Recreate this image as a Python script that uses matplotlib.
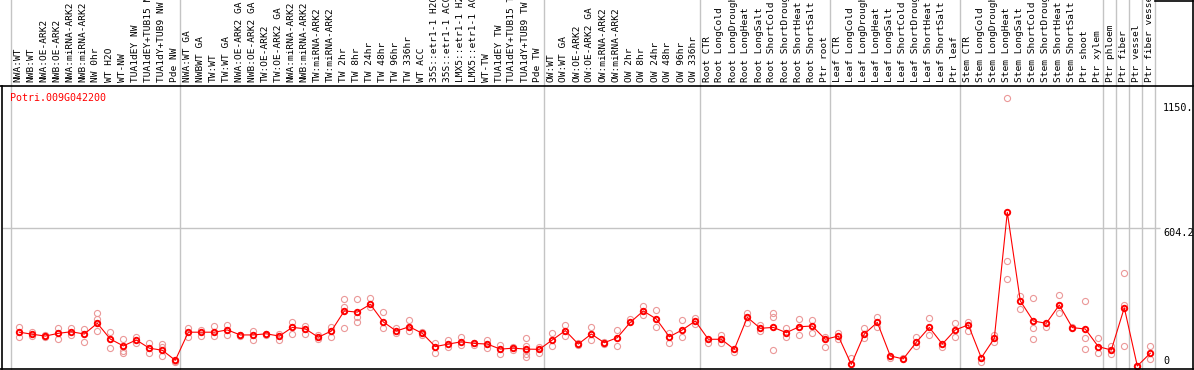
import matplotlib
matplotlib.use("Agg")
import matplotlib.pyplot as plt
from matplotlib.lines import Line2D
from matplotlib.transforms import blended_transform_factory

# ---------------- data ----------------
gene_id = "Potri.009G042200"

categories = [
    "NWA:WT", "NWB:WT", "NWA:OE-ARK2", "NWB:OE-ARK2", "NWA:miRNA-ARK2", "NWB:miRNA-ARK2",
    "NW 0hr", "WT H2O", "WT-NW", "TUA1dEY NW", "TUA1dEY+TUB15 NW", "TUA1dY+TUB9 NW", "Pde NW",
    "NWA:WT GA", "NWBWT GA", "TW:WT", "TW:WT GA", "NWA:OE-ARK2 GA", "NWB:OE-ARK2 GA",
    "TW:OE-ARK2", "TW:OE-ARK2 GA", "NWA:miRNA-ARK2", "NWB:miRNA-ARK2", "TW:miRNA-ARK2",
    "TW:miRNA-ARK2", "TW 2hr", "TW 8hr", "TW 24hr", "TW 48hr", "TW 96hr", "TW 336hr", "WT ACC",
    "35S::etr1-1 H2O", "35S::etr1-1 ACC", "LMX5::etr1-1 H2O", "LMX5::etr1-1 ACC", "WT-TW",
    "TUA1dEY TW", "TUA1dEY+TUB15 TW", "TUA1dY+TUB9 TW", "Pde TW",
    "OW:WT", "OW:WT GA", "OW:OE-ARK2", "OW:OE-ARK2 GA", "OW:miRNA-ARK2", "OW:miRNA-ARK2",
    "OW 2hr", "OW 8hr", "OW 24hr", "OW 48hr", "OW 96hr", "OW 336hr",
    "Root CTR", "Root LongCold", "Root LongDrought", "Root LongHeat", "Root LongSalt",
    "Root ShortCold", "Root ShortDrought", "Root ShortHeat", "Root ShortSalt", "Ptr root",
    "Leaf CTR", "Leaf LongCold", "Leaf LongDrought", "Leaf LongHeat", "Leaf LongSalt",
    "Leaf ShortCold", "Leaf ShortDrought", "Leaf ShortHeat", "Leaf ShortSalt", "Ptr leaf",
    "Stem CTR", "Stem LongCold", "Stem LongDrought", "Stem LongHeat", "Stem LongSalt",
    "Stem ShortCold", "Stem ShortDrought", "Stem ShortHeat", "Stem ShortSalt", "Ptr shoot",
    "Ptr xylem", "Ptr phloem", "Ptr fiber", "Ptr vessel", "Ptr fiber vessel",
]

# group boundaries (category index where a separator line is drawn)
separators = [0, 13, 41, 53, 63, 73, 84, 85, 86, 87, 88]

means = [
    148, 139, 131, 143, 150, 140, 187, 118, 88, 114, 78, 69, 25,
    148, 148, 148, 158, 136, 136, 141, 131, 169, 163, 126, 153, 241, 236, 270, 193, 153, 172,
    143, 85, 96, 106, 99, 96, 74, 78, 74, 73,
    114, 155, 96, 140, 102, 124, 191, 241, 206, 128, 158, 197,
    117, 117, 73, 213, 165, 169, 146, 172, 175, 117,
    131, 7, 140, 191, 44, 31, 104, 169, 96, 158,
    180, 36, 121, 673, 285, 197, 187, 267, 168, 162, 85, 70, 255, 0, 56,
]

replicates = [
    [172, 128], [149, 131], [136, 127], [168, 117], [168, 137], [162, 104],
    [231, 206, 153], [149, 77], [117, 67, 58], [127, 99], [99, 56], [96, 84, 44], [22, 18],
    [168, 128], [158, 131], [176, 131], [179, 136], [136, 131], [155, 114], [141, 136],
    [139, 114], [194, 140], [175, 139], [136, 117], [169, 128], [293, 257, 165],
    [293, 213, 194], [296, 257], [235, 165], [165, 146], [201, 153], [149, 136],
    [102, 56], [114, 84], [128, 92], [102, 92], [114, 77], [92, 51], [84, 70],
    [124, 89, 70, 53, 38], [84, 58],
    [143, 89], [179, 131], [102, 92], [172, 114], [106, 96], [158, 88], [204],
    [263, 223], [245, 169], [143, 99], [201, 128], [209, 184],
    [102], [136, 102], [63], [233, 190], [179, 155], [231, 216, 70], [165, 128],
    [204, 136], [201, 146], [128, 84],
    [146, 117], [34], [165, 121], [213, 172], [34], [34], [128, 88], [209, 136], [84],
    [187, 126],
    [194, 153], [19], [136, 106], [1172, 461, 380], [306, 248], [296, 165, 117], [172],
    [311, 233], [172], [286, 121, 74], [121, 58], [88, 51], [406, 267, 88], [0], [88, 29],
]

axis_labels = ["1150.", "604.2", "0"]
axis_values = [1150.0, 604.2, 0.0]

# ---------------- figure ----------------
W, H = 1194, 370
fig = plt.figure(figsize=(W / 100, H / 100), dpi=100)
ax = fig.add_axes([0, 0, 1, 1])
# pixel geometry: category i at x = 19.3 + 13 i ; value v at y(px from top) = 366 - 0.2284 v
x0, dx = 19.3, 13.0
y0, ky = 366.0, 0.2284
ax.set_xlim((0 - x0) / dx, (W - x0) / dx)
ax.set_ylim((y0 - H) / ky, y0 / ky)
ax.axis("off")

def fx(px):
    return px / W

def fy(py):
    return 1 - py / H

grey = "#c4c4c4"
mono = "DejaVu Sans Mono"

# vertical separators (full height)
for k in separators:
    xd = k + (11 - x0) / dx
    ax.axvline(xd, ymin=fy(369), ymax=1, color=grey, lw=1, zorder=1)

# horizontal gridline at middle label value
ax.hlines(604.2, (2 - x0) / dx, (1160 - x0) / dx, color=grey, lw=1, zorder=1)

# borders
border = dict(color="black", lw=1.2, transform=fig.transFigure, zorder=6)
fig.add_artist(Line2D([0, fx(1193)], [fy(86), fy(86)], **border))
fig.add_artist(Line2D([0, fx(1193)], [fy(369), fy(369)], **border))
fig.add_artist(Line2D([fx(1.5), fx(1.5)], [fy(86), fy(369)], **border))
fig.add_artist(Line2D([fx(1192.7), fx(1192.7)], [fy(0), fy(369)], **border))
fig.add_artist(Line2D([fx(1155), fx(1193)], [fy(0.5), fy(0.5)], **border))

# category labels in header (long ones run off the top edge, as in the original)
trans_lbl = blended_transform_factory(ax.transData, fig.transFigure)
for i, c in enumerate(categories):
    ax.text(i + 1.2 / dx, fy(82), c, rotation=90, rotation_mode="anchor",
            ha="left", va="baseline", family=mono, fontsize=6.8, color="black",
            transform=trans_lbl, clip_on=False)

# replicate points
rep_x, rep_y = [], []
for i, r in enumerate(replicates):
    rep_x += [i] * len(r)
    rep_y += r
ax.plot(rep_x, rep_y, linestyle="none", marker="o", ms=4.4, mfc="none",
        mec="#eb9898", mew=0.8, zorder=3, clip_on=False)

# mean line and markers
xs = list(range(len(means)))
ax.plot(xs, means, color="red", lw=0.8, zorder=4, clip_on=False)
ax.plot(xs, means, linestyle="none", marker="o", ms=3.9, mfc="none",
        mec="#ff0000", mew=1.4, zorder=5, clip_on=False)

# gene id
fig.text(fx(10), fy(98.3), gene_id, color="red", family=mono, fontsize=7.2,
         ha="left", va="center")

# value labels on the right
trans_val = blended_transform_factory(fig.transFigure, ax.transData)
valign = ["top", "top", "bottom"]
for lab, v, va in zip(axis_labels, axis_values, valign):
    ax.text(fx(1163), v, lab, family=mono, fontsize=7.3, ha="left", va=va,
            transform=trans_val, color="black", zorder=7,
            bbox=dict(facecolor="white", edgecolor="none", pad=0.3))

fig.savefig("out.png", dpi=100, facecolor="white")
